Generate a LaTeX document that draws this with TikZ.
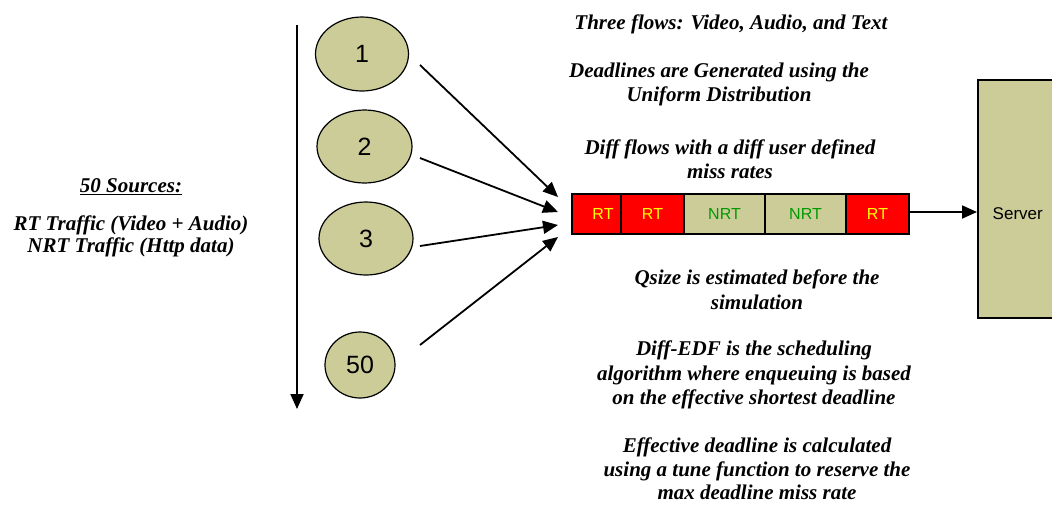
\documentclass[tikz,border=0pt]{standalone}
\usepackage{fontspec}
\setmainfont{Liberation Serif}
\newfontfamily\arialfont{Liberation Sans}
\usetikzlibrary{arrows.meta,shapes.geometric}
\definecolor{khaki}{RGB}{204,204,153}
\definecolor{nrtgreen}{RGB}{0,153,0}
\definecolor{rtyellow}{RGB}{255,255,0}
\begin{document}
\begin{tikzpicture}[x=1pt,y=-1pt,
  src/.style={draw=black, line width=1.2pt, fill=khaki, ellipse, inner sep=0pt,
    font=\arialfont\fontsize{25}{25}\selectfont},
  arr/.style={line width=1.8pt, -{Triangle[length=15pt,width=13pt]}},
  cell/.style={draw=black, line width=1.5pt, minimum height=40pt, inner sep=0pt,
    font=\arialfont\fontsize{16}{16}\selectfont},
  note/.style={font=\fontsize{21}{24.5}\selectfont\bfseries\itshape, align=center, inner sep=0pt},
  lnote/.style={font=\fontsize{21}{22}\selectfont\bfseries\itshape, align=center, inner sep=0pt}]
\useasboundingbox (0,0) rectangle (1052,504);

% time axis
\coordinate (ttop) at (297,25);
\coordinate (tbot) at (297,409);
\draw[arr] (ttop) -- (tbot);

% sources
\node[src, minimum width=93pt, minimum height=74pt] (s1) at (362,54) {1};
\node[src, minimum width=95pt, minimum height=73pt] (s2) at (364.5,146.5) {2};
\node[src, minimum width=94pt, minimum height=73pt] (s3) at (366,238.5) {3};
\node[src, minimum width=70pt, minimum height=66pt] (s50) at (360,365) {50};

% queue
\node[cell, fill=red, minimum width=49pt] (c1) at (596.5,214) {\kern13pt\textcolor{rtyellow}{RT}};
\node[cell, fill=red, minimum width=63pt] (c2) at (652.5,214) {\textcolor{rtyellow}{RT}};
\node[cell, fill=khaki, minimum width=81pt] (c3) at (724.5,214) {\textcolor{nrtgreen}{NRT}};
\node[cell, fill=khaki, minimum width=81pt] (c4) at (805.5,214) {\textcolor{nrtgreen}{NRT}};
\node[cell, fill=red, minimum width=63pt] (c5) at (877.5,214) {\textcolor{rtyellow}{RT}};

% server
\node[draw=black, line width=1.5pt, fill=khaki, minimum width=80pt, minimum height=238pt,
  anchor=north west,
  label={[yshift=-15pt, font=\arialfont\fontsize{17}{17}\selectfont]center:Server}] (server) at (977,79) {};

% arrows from sources to queue
\coordinate (a1) at (420,65);   \coordinate (t1) at (558,197);
\coordinate (a2) at (420,158);  \coordinate (t2) at (558,212);
\coordinate (a3) at (420,246);  \coordinate (t3) at (558,225);
\coordinate (a4) at (420,345);  \coordinate (t4) at (558,237);
\draw[arr] (a1) -- (t1);
\draw[arr] (a2) -- (t2);
\draw[arr] (a3) -- (t3);
\draw[arr] (a4) -- (t4);

\draw[arr] (c5.east |- 0,212) -- (server.west |- 0,212);

% notes
\node[note] (n1) at (731,24) {Three flows: Video, Audio, and Text};
\node[note] (n2) at (719,84.5) {Deadlines are Generated using the\\Uniform Distribution};
\node[note] (n3) at (730,159) {Diff flows with a diff user defined\\miss rates};
\node[note] (n4) at (757,289.5) {Qsize is estimated before the\\simulation};
\node[note] (n5) at (754,375) {Diff-EDF is the scheduling\\algorithm where enqueuing is based\\on the effective shortest deadline};
\node[note, font=\fontsize{21}{23.5}\selectfont\bfseries\itshape] (n6) at (757,469) {Effective deadline is calculated\\using a tune function to reserve the\\max deadline miss rate};

\node[lnote] (l1) at (131,187) {\underline{50 Sources:}};
\node[lnote] (l2) at (131,236) {RT Traffic (Video + Audio)\\NRT Traffic (Http data)};
\end{tikzpicture}
\end{document}
